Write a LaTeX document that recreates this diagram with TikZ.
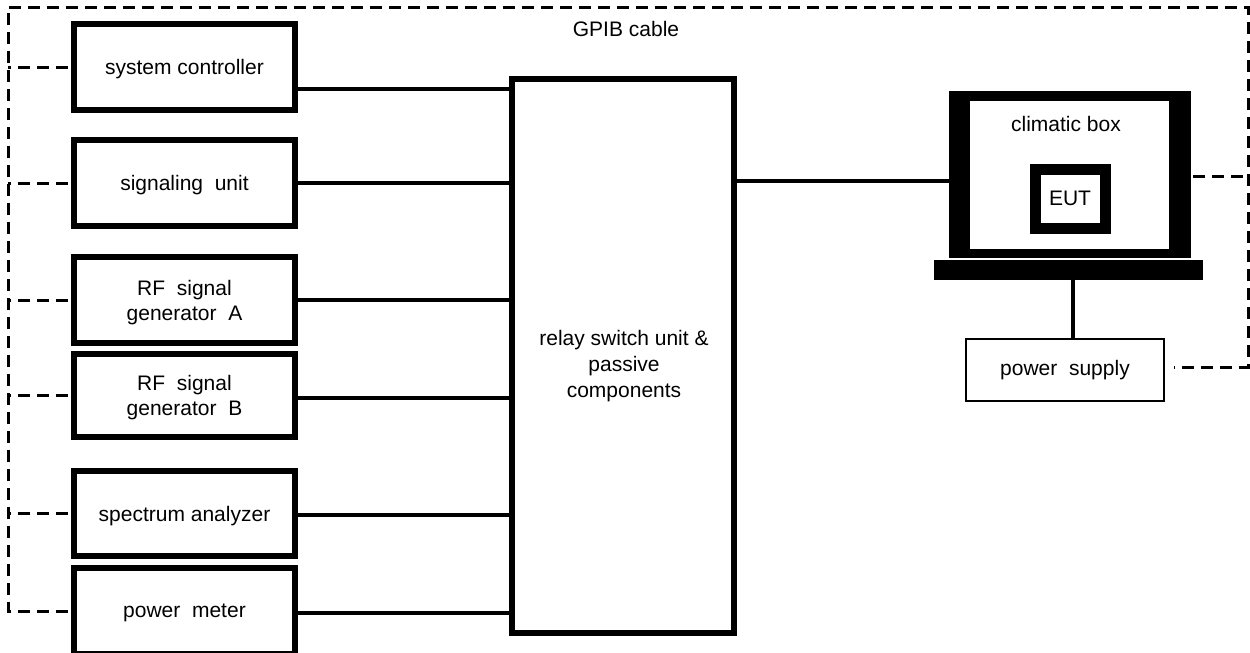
\documentclass[tikz,border=0pt]{standalone}
\usepackage{fontspec}
\setmainfont{Liberation Sans}
\begin{document}
\begin{tikzpicture}[x=1pt,y=-1pt,
  font=\fontsize{21}{25}\selectfont,
  unit/.style={draw, line width=6pt, rectangle, minimum width=221pt, align=center, inner sep=0pt, text depth=0pt},
  conn/.style={line width=4pt},
  gpib/.style={line width=3pt, dash pattern=on 12pt off 7pt}]
\useasboundingbox (0,0) rectangle (1250,653);
\fill[white] (0,0) rectangle (1250,653);
% left units
\node[unit, minimum height=86pt] (sc) at (184.5,67) {system controller};
\node[unit, minimum height=86pt] (su) at (184.5,183) {signaling\ \ unit};
\node[unit, minimum height=86pt] (rfa) at (184.5,300) {RF\ \ signal\\generator\ \ A};
\node[unit, minimum height=83pt] (rfb) at (184.5,395.5) {RF\ \ signal\\generator\ \ B};
\node[unit, minimum height=85pt] (sa) at (184.5,513.5) {spectrum analyzer};
\node[unit, minimum height=86pt] (pm) at (184.5,611) {power\ \ meter};
% relay
\node[draw, line width=6pt, minimum width=222pt, minimum height=554pt, inner sep=0pt] (relay) at (623,356) {};
\node[align=center, font=\fontsize{21}{26}\selectfont, text depth=0pt] (relaytxt) at (624,364) {relay switch unit \&\\passive\\components};
% climatic box
\node[fill=black, minimum width=242pt, minimum height=167pt, inner sep=0pt] (clim) at (1070,174.5) {};
\node[fill=white, minimum width=199pt, minimum height=148pt, inner sep=0pt] (climin) at (1069.5,175) {};
\node (climtxt) at (1066,124) {climatic box};
\node[draw, line width=11pt, minimum width=70pt, minimum height=59pt, inner sep=0pt, text depth=0pt] (eut) at (1070,198.5) {EUT};
\node[fill=black, minimum width=269pt, minimum height=20pt, inner sep=0pt] (base) at (1068.5,270) {};
\node[draw, line width=1.5pt, minimum width=198pt, minimum height=62pt, inner sep=0pt] (ps) at (1065,370) {power\ \ supply};
\node (gpibtxt) at (626,29) {GPIB cable};
% helper coordinates
\coordinate (ya) at (0,89);
\coordinate (yb) at (0,398);
\coordinate (yc) at (0,515);
\coordinate (yd) at (0,613);
\coordinate (yr) at (0,181);
\coordinate (yps) at (0,367);
\coordinate (ycl) at (0,176);
\coordinate (xv) at (1073,0);
\coordinate (xl) at (8,0);
\coordinate (xr) at (1248,0);
\coordinate (ytop) at (0,7);
% solid connectors
\draw[conn] (sc.east |- ya) -- (relay.west |- ya);
\draw[conn] (su.east) -- (relay.west |- su.east);
\draw[conn] (rfa.east) -- (relay.west |- rfa.east);
\draw[conn] (rfb.east |- yb) -- (relay.west |- yb);
\draw[conn] (sa.east |- yc) -- (relay.west |- yc);
\draw[conn] (pm.east |- yd) -- (relay.west |- yd);
\draw[conn] (relay.east |- yr) -- (clim.west |- yr);
\draw[line width=4pt] (base.south -| xv) -- (ps.north -| xv);
% GPIB dashed
\draw[gpib, shorten <=3pt] (pm.west) -- (pm.west -| xl) -- (xl |- ytop) -- (xr |- ytop) -- (xr |- yps) -- ([xshift=9pt]ps.east |- yps);
\draw[gpib, shorten <=3pt] (sc.west) -- (sc.west -| xl);
\draw[gpib, shorten <=3pt] (su.west) -- (su.west -| xl);
\draw[gpib, shorten <=3pt] (rfa.west) -- (rfa.west -| xl);
\draw[gpib, shorten <=3pt] (rfb.west) -- (rfb.west -| xl);
\draw[gpib, shorten <=3pt] (sa.west) -- (sa.west -| xl);
\draw[gpib, shorten <=2pt] (clim.east |- ycl) -- (xr |- ycl);
\end{tikzpicture}
\end{document}
